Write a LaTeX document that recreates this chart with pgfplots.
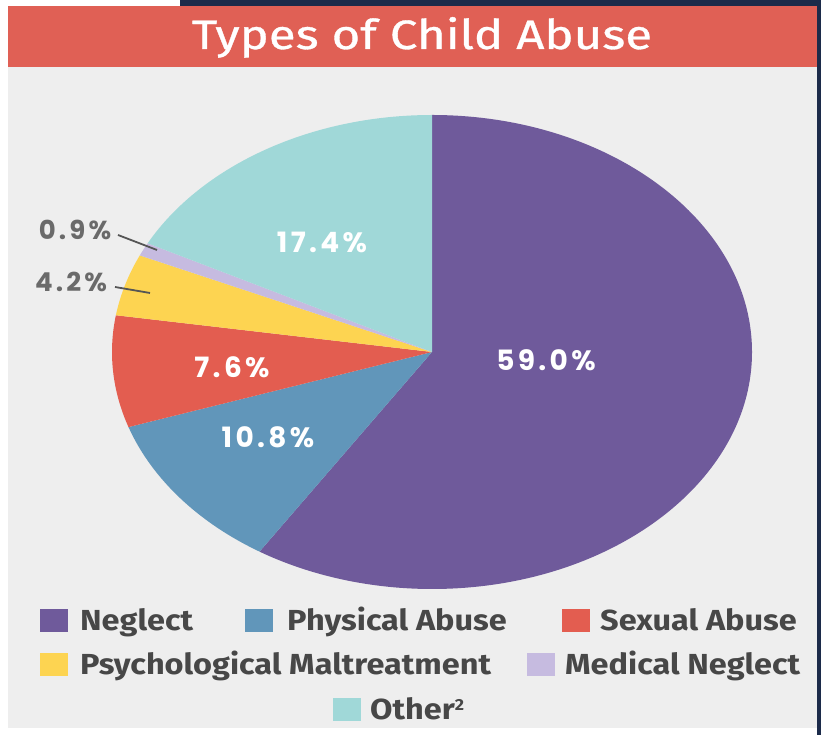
\documentclass[border=0pt]{standalone}
\usepackage{pgfplots}
\pgfplotsset{compat=1.18}
\usepackage{fontspec}
\newfontfamily\din{Fira Sans}[FakeStretch=1.12]
\newfontfamily\dint{Fira Sans}[FakeStretch=1.2, FakeBold=0.8]
\newfontfamily\pop{Poppins}[LetterSpace=12]
\definecolor{cNavy}{HTML}{1C2B4A}
\definecolor{cTitle}{HTML}{E06055}
\definecolor{cBg}{HTML}{EEEEEE}
\definecolor{cNeg}{HTML}{6F5A9B}
\definecolor{cPhy}{HTML}{6196BA}
\definecolor{cSex}{HTML}{E35D50}
\definecolor{cPsy}{HTML}{FDD451}
\definecolor{cMed}{HTML}{C6BBE0}
\definecolor{cOth}{HTML}{A0D8D8}
\definecolor{cTxt}{HTML}{474747}
\definecolor{cLbl}{HTML}{6A6A6A}
\begin{document}
\begin{tikzpicture}
\begin{axis}[
  scale only axis, width=821pt, height=735pt,
  xmin=0, xmax=821, ymin=0, ymax=735,
  hide axis, clip=false,
]
% page background
\fill[white] (axis cs:0,0) rectangle (axis cs:821,735);
\fill[cNavy] (axis cs:180,729) rectangle (axis cs:821,735);
\fill[cNavy] (axis cs:817,0) rectangle (axis cs:821,735);
\fill[cTitle] (axis cs:8,668) rectangle (axis cs:817,729);
\fill[cBg] (axis cs:8,7) rectangle (axis cs:817,668);
\node[text=white, anchor=base] at (axis cs:422,686)
  {\dint\fontsize{41}{41}\selectfont Types of Child Abuse};
% pie: shares in percent (sum 99.9)
\pgfplotsextra{
  \foreach \v/\c [remember=\b as \a (initially 90)] in
     {59.0/cNeg, 10.8/cPhy, 7.6/cSex, 4.2/cPsy, 0.9/cMed, 17.4/cOth}{
    \pgfmathsetmacro\b{\a-3.6036036*\v}
    \pgfmathsetmacro\sx{432+320*cos(\a)}
    \pgfmathsetmacro\sy{383+237*sin(\a)}
    \fill[\c] (axis cs:432,383) -- (axis cs:\sx,\sy)
      arc[start angle=\a, end angle=\b, x radius=320pt, y radius=237pt] -- cycle;
  }
}
% slice labels
\node[text=white, anchor=base] at (axis cs:546,364) {\pop\bfseries\fontsize{28}{28}\selectfont 59.0\%};
\node[text=white, anchor=base] at (axis cs:322,482) {\pop\bfseries\fontsize{28}{28}\selectfont 17.4\%};
\node[text=white, anchor=base] at (axis cs:232,357) {\pop\bfseries\fontsize{28}{28}\selectfont 7.6\%};
\node[text=white, anchor=base] at (axis cs:268,287) {\pop\bfseries\fontsize{28}{28}\selectfont 10.8\%};
\node[text=cLbl, anchor=base] at (axis cs:75,495) {\pop\bfseries\fontsize{26}{26}\selectfont 0.9\%};
\node[text=cLbl, anchor=base] at (axis cs:71,443) {\pop\bfseries\fontsize{26}{26}\selectfont 4.2\%};
\draw[cLbl!80!black, line width=1.8pt] (axis cs:118,500) -- (axis cs:157,485);
\draw[cLbl!80!black, line width=1.8pt] (axis cs:115,448) -- (axis cs:150,442);
% legend
\fill[cNeg] (axis cs:40,103) rectangle (axis cs:68,126);
\node[text=cTxt, anchor=base west, inner sep=0pt] at (axis cs:80,104) {\din\bfseries\fontsize{29}{29}\selectfont Neglect};
\fill[cPhy] (axis cs:245,103) rectangle (axis cs:273,126);
\node[text=cTxt, anchor=base west, inner sep=0pt] at (axis cs:287,104) {\din\bfseries\fontsize{29}{29}\selectfont Physical Abuse};
\fill[cSex] (axis cs:562,103) rectangle (axis cs:590,126);
\node[text=cTxt, anchor=base west, inner sep=0pt] at (axis cs:600,104) {\din\bfseries\fontsize{29}{29}\selectfont Sexual Abuse};
\fill[cPsy] (axis cs:40,59) rectangle (axis cs:68,82);
\node[text=cTxt, anchor=base west, inner sep=0pt] at (axis cs:80,60) {\din\bfseries\fontsize{29}{29}\selectfont Psychological Maltreatment};
\fill[cMed] (axis cs:527,59) rectangle (axis cs:555,82);
\node[text=cTxt, anchor=base west, inner sep=0pt] at (axis cs:565,60) {\din\bfseries\fontsize{29}{29}\selectfont Medical Neglect};
\fill[cOth] (axis cs:333,14) rectangle (axis cs:361,37);
\node[text=cTxt, anchor=base west, inner sep=0pt] at (axis cs:370,15) {\din\bfseries\fontsize{29}{29}\selectfont Other{\fontsize{16}{16}\selectfont\raisebox{9pt}{2}}};
\end{axis}
\end{tikzpicture}
\end{document}
